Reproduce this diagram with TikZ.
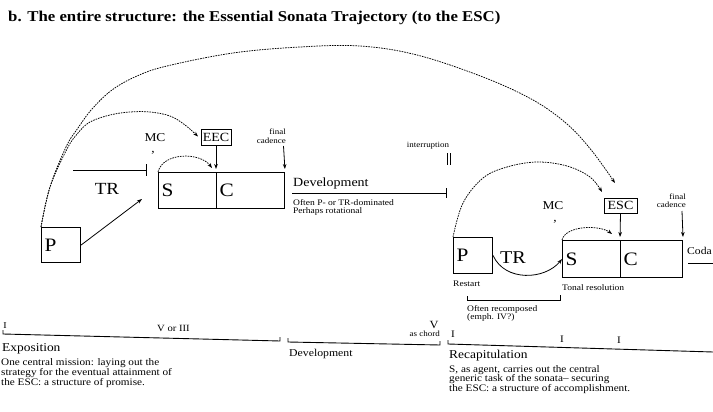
\documentclass[tikz,border=0pt]{standalone}
\usepackage{fontspec}
\setmainfont{Liberation Serif}[FakeStretch=1.12]
\usetikzlibrary{arrows.meta}
\begin{document}
\begin{tikzpicture}[x=1pt,y=-1pt,
  sz/.style={font=\fontsize{#1}{#1}\selectfont},
  lbl/.style={inner sep=0pt},
  lbox/.style={draw, line width=1.1pt, anchor=north west, inner xsep=3pt, inner ysep=0pt, align=left, font=\fontsize{19}{19}\selectfont},
  tbox/.style={draw, line width=0.8pt, inner sep=1pt, font=\fontsize{12.5}{12.5}\selectfont},
  arr/.style={-{Stealth[length=5pt,width=3.6pt]}},
  sarr/.style={line width=0.8pt, arr},
  darc/.style={line width=0.75pt, dash pattern=on 1.6pt off 1pt, arr},
  rule/.style={line width=0.9pt},
]
\fill[white] (0,0) rectangle (713,412);
\useasboundingbox (0,0) rectangle (713,412);

% title
\node[lbl, anchor=base west, font=\bfseries\fontsize{15}{15}\selectfont] (title) at (8,22)
  {b. The entire structure: the Essential Sonata Trajectory (to the ESC)};

% ---------- Exposition ----------
\node[lbox, text width=33pt, minimum height=35pt] (eP) at (41,227) {P};
\node[lbox, text width=52pt, minimum height=36pt] (eS) at (158,172) {S};
\node[lbox, text width=62pt, minimum height=36pt] (eC) at (216,172) {C};
\node[tbox, minimum width=30pt, minimum height=16pt] (eEEC) at (216,137.5) {EEC};
\node[lbl, anchor=base, sz=12] (eMC) at (155,141) {MC};
\node[lbl, anchor=base, sz=12] (eCm) at (153,153) {,};
\node[lbl, anchor=base, sz=17] (eTR) at (107,194) {TR};
\node[lbl, anchor=south east, align=right, font=\fontsize{8}{9}\selectfont] (eFC) at (286,144) {final\\cadence};

\coordinate (eTRa) at (73,170);
\coordinate (eTRb) at (147,170);
\draw[line width=0.8pt, -{Bar[width=12pt,line width=0.8pt]}] (eTRa) -- (eTRb);
\coordinate (ePt) at (142,199);
\draw[sarr] (eP.east) -- (ePt);
\draw[sarr, shorten >=3pt] (eEEC.south) -- (eC.north west);
\coordinate (eFCa) at (283.5,146);
\draw[sarr, shorten >=3pt] (eFCa) -- (eC.north east);
\coordinate (eSarc) at (212,168);
\draw[darc] (eS.north west) .. controls (163,152) and (200,152) .. (eSarc);
\coordinate (eEECt) at (198,136.5);
\draw[darc] plot[smooth, tension=0.6] coordinates {(eP.north west) (50,187) (67,149) (78,133) (90,122) (110,115) (130,112) (150,112) (170,116) (185,125) (eEECt)};
\coordinate (bigT) at (615,183);
\draw[darc] plot[smooth, tension=0.6] coordinates {(eP.north west) (50,187) (66,147) (78,128) (92,109) (112,90) (137,76) (167,66) (233,53) (300,47) (360,46) (417,55) (483,77) (533,100) (567,124) (592,151) (bigT)};

% ---------- Development (middle) ----------
\node[lbl, anchor=base west, sz=12.5] (dDev) at (293,186) {Development};
\coordinate (dL1) at (292,193);
\coordinate (dL2) at (447,193);
\draw[line width=0.8pt, -{Bar[width=10pt,line width=0.8pt]}] (dL1) -- (dL2);
\node[lbl, anchor=north west, align=left, font=\fontsize{8.5}{8}\selectfont] (dOft) at (293,199)
  {Often P- or TR-dominated\\Perhaps rotational};
\node[lbl, anchor=base, font=\fontsize{8}{8}\selectfont] (intr) at (428,147) {interruption};
\draw[line width=0.8pt] (447,153) -- (447,165) (450,153) -- (450,165);

% ---------- Recapitulation ----------
\node[lbox, text width=33pt, minimum height=36pt] (rP) at (453,237) {P};
\node[lbox, text width=52pt, minimum height=37pt] (rS) at (562,240) {S};
\node[lbox, text width=56pt, minimum height=37pt] (rC) at (620,240) {C};
\node[tbox, minimum width=33pt, minimum height=15pt] (rESC) at (620.5,205.5) {ESC};
\node[lbl, anchor=base, sz=12] (rMC) at (553,209) {MC};
\node[lbl, anchor=base, sz=12] (rCm) at (555,221) {,};
\node[lbl, anchor=base, sz=18] (rTR) at (513,263) {TR};
\node[lbl, anchor=south east, align=right, font=\fontsize{8}{8}\selectfont] (rFC) at (686,208) {final\\cadence};
\node[lbl, anchor=base west, sz=10.4] (coda) at (687,254) {Coda};
\node[lbl, anchor=base west, sz=8.5] (rst) at (453,286) {Restart};
\node[lbl, anchor=base west, sz=8.5] (ton) at (562,290) {Tonal resolution};
\node[lbl, anchor=north west, align=left, font=\fontsize{8.5}{7.5}\selectfont] (rOft) at (467,305)
  {Often recomposed\\(emph. IV?)};

\draw[line width=0.8pt, arr] (rP.east) .. controls (505,282) and (545,280) .. (rS.west);
\draw[sarr, shorten >=3pt] (rESC.south) -- (rC.north west);
\coordinate (rFCa) at (682,211);
\draw[sarr, shorten >=3pt] (rFCa) -- (rC.north east);
\coordinate (rSarc) at (612,234);
\draw[darc] (rS.north west) .. controls (566,225) and (600,225) .. (rSarc);
\coordinate (rPt) at (602,192);
\draw[darc] plot[smooth, tension=0.6] coordinates {(rP.north west) (463,203) (483,178) (507,167) (537,162) (567,166) (590,177) (rPt)};
\coordinate (codaA) at (688,263);
\coordinate (codaB) at (713,263);
\draw[line width=0.8pt] (codaA) -- (codaB);
\draw[line width=0.7pt] (467,296) -- (467,300) -- (560,300) -- (560,295);

% ---------- bottom timeline ----------
\draw[rule] (3,330) -- (3,334) -- (280,341) -- (280,337);
\draw[rule] (288,338) -- (288,342) -- (440,345) -- (440,341);
\draw[rule] (448,340) -- (448,344) -- (713,352);
\node[lbl, anchor=base, sz=9] (bI1) at (5,328) {I};
\node[lbl, anchor=base west, sz=9.5] (bV3) at (157,331) {V or III};
\node[lbl, anchor=base, sz=11] (bV) at (434,328) {V};
\node[lbl, anchor=base east, sz=8] (bch) at (440,336) {as chord};
\node[lbl, anchor=base, sz=10] (bI2) at (453,337) {I};
\node[lbl, anchor=base, sz=10] (bI3) at (562,342) {I};
\node[lbl, anchor=base, sz=10] (bI4) at (619,343) {I};

\node[lbl, anchor=base west, sz=12] (bExp) at (2,351) {Exposition};
\node[lbl, anchor=north west, align=left, font=\fontsize{10}{9}\selectfont] (bExpT) at (1,358)
  {One central mission: laying out the\\strategy for the eventual attainment of\\the ESC: a structure of promise.};
\node[lbl, anchor=base west, sz=10.5] (bDev) at (289,356) {Development};
\node[lbl, anchor=base west, sz=12] (bRec) at (449,358) {Recapitulation};
\node[lbl, anchor=north west, align=left, font=\fontsize{10}{9.5}\selectfont] (bRecT) at (449,365)
  {S, as agent, carries out the central\\generic task of the sonata– securing\\the ESC: a structure of accomplishment.};
\end{tikzpicture}
\end{document}
